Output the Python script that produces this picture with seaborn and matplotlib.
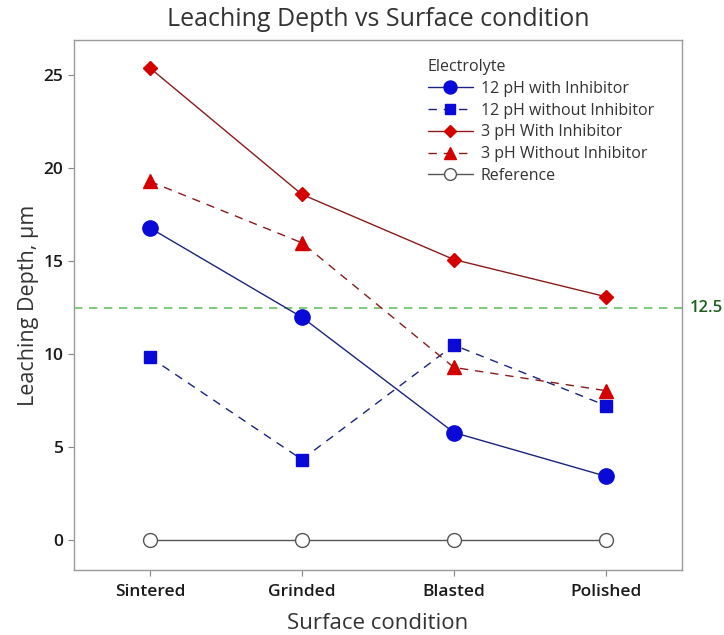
import matplotlib
matplotlib.use("Agg")
import matplotlib.pyplot as plt
import seaborn as sns
import pandas as pd

conditions = ["Sintered", "Grinded", "Blasted", "Polished"]
ph12_with = [16.8, 12.0, 5.8, 3.45]
ph12_without = [9.85, 4.35, 10.5, 7.25]
ph3_with = [25.4, 18.6, 15.1, 13.1]
ph3_without = [19.3, 16.0, 9.3, 8.05]
reference = [0, 0, 0, 0]
ref_line = 12.5

series = [
    ("12 pH with Inhibitor", ph12_with),
    ("12 pH without Inhibitor", ph12_without),
    ("3 pH With Inhibitor", ph3_with),
    ("3 pH Without Inhibitor", ph3_without),
    ("Reference", reference),
]

rows = []
for name, vals in series:
    for c, v in zip(conditions, vals):
        rows.append({"Electrolyte": name, "Surface condition": c, "value": v})
df = pd.DataFrame(rows)

sns.set_theme(style="white")
plt.rcParams["font.family"] = ["Open Sans", "DejaVu Sans"]

fig = plt.figure(figsize=(7.24, 6.35), dpi=100)
ax = fig.add_axes([0.102, 0.102, 0.840, 0.835])

styles = {
    "12 pH with Inhibitor": dict(color="#1a237e", marker="o", markersize=11,
                                 markerfacecolor="#0a0ad8", markeredgecolor="#0a0ad8",
                                 linestyle="-"),
    "12 pH without Inhibitor": dict(color="#1a237e", marker="s", markersize=9,
                                    markerfacecolor="#0a0ad8", markeredgecolor="#0a0ad8",
                                    linestyle=(0, (6, 5))),
    "3 pH With Inhibitor": dict(color="#8b1a1a", marker="D", markersize=7.5,
                                markerfacecolor="#d40000", markeredgecolor="#d40000",
                                linestyle="-"),
    "3 pH Without Inhibitor": dict(color="#8b1a1a", marker="^", markersize=9.5,
                                   markerfacecolor="#d40000", markeredgecolor="#d40000",
                                   linestyle=(0, (6, 5))),
    "Reference": dict(color="#555555", marker="o", markersize=10,
                      markerfacecolor="white", markeredgecolor="#555555",
                      linestyle="-"),
}

for name, _ in series:
    sub = df[df["Electrolyte"] == name]
    st = styles[name]
    sns.lineplot(data=sub, x="Surface condition", y="value", ax=ax,
                 sort=False, label=name, linewidth=1.0,
                 markeredgewidth=1.0, **st)

ax.axhline(ref_line, color="#66c266", linestyle=(0, (5, 4)), linewidth=1.2, zorder=0)
ax.text(1.012, ref_line, "12.5", transform=ax.get_yaxis_transform(),
        color="#1e5e1e", fontsize=12, fontweight="semibold", va="center", ha="left")

ax.set_xlim(-0.5, 3.5)
ax.set_ylim(-1.6, 26.9)
ax.set_yticks([0, 5, 10, 15, 20, 25])
ax.set_xlabel("Surface condition", fontsize=16, color="#333333", labelpad=9)
ax.set_ylabel("Leaching Depth, µm", fontsize=15.5, color="#333333", labelpad=3)
ax.set_title("Leaching Depth vs Surface condition", fontsize=18, color="#333333", pad=10)
ax.tick_params(axis="both", which="both", direction="out", length=4, width=0.8,
               colors="#888888", labelcolor="#1a1a1a", labelsize=12.5,
               bottom=True, left=True)
ax.tick_params(axis="x", pad=6)
for lab in ax.get_xticklabels() + ax.get_yticklabels():
    lab.set_fontweight("semibold")
for s in ax.spines.values():
    s.set_color("#999999")
    s.set_linewidth(1.0)

handles, labels = ax.get_legend_handles_labels()
leg = ax.legend(handles, labels, title="Electrolyte", loc="upper right",
                bbox_to_anchor=(0.972, 0.985), frameon=False, fontsize=11.5,
                title_fontsize=11.5, handlelength=2.8, labelspacing=0.36,
                borderaxespad=0.3, handletextpad=0.5, markerscale=0.85)
leg._legend_box.align = "left"
for t in leg.get_texts():
    t.set_color("#333333")
leg.get_title().set_color("#333333")

fig.savefig("out.png", dpi=100)
